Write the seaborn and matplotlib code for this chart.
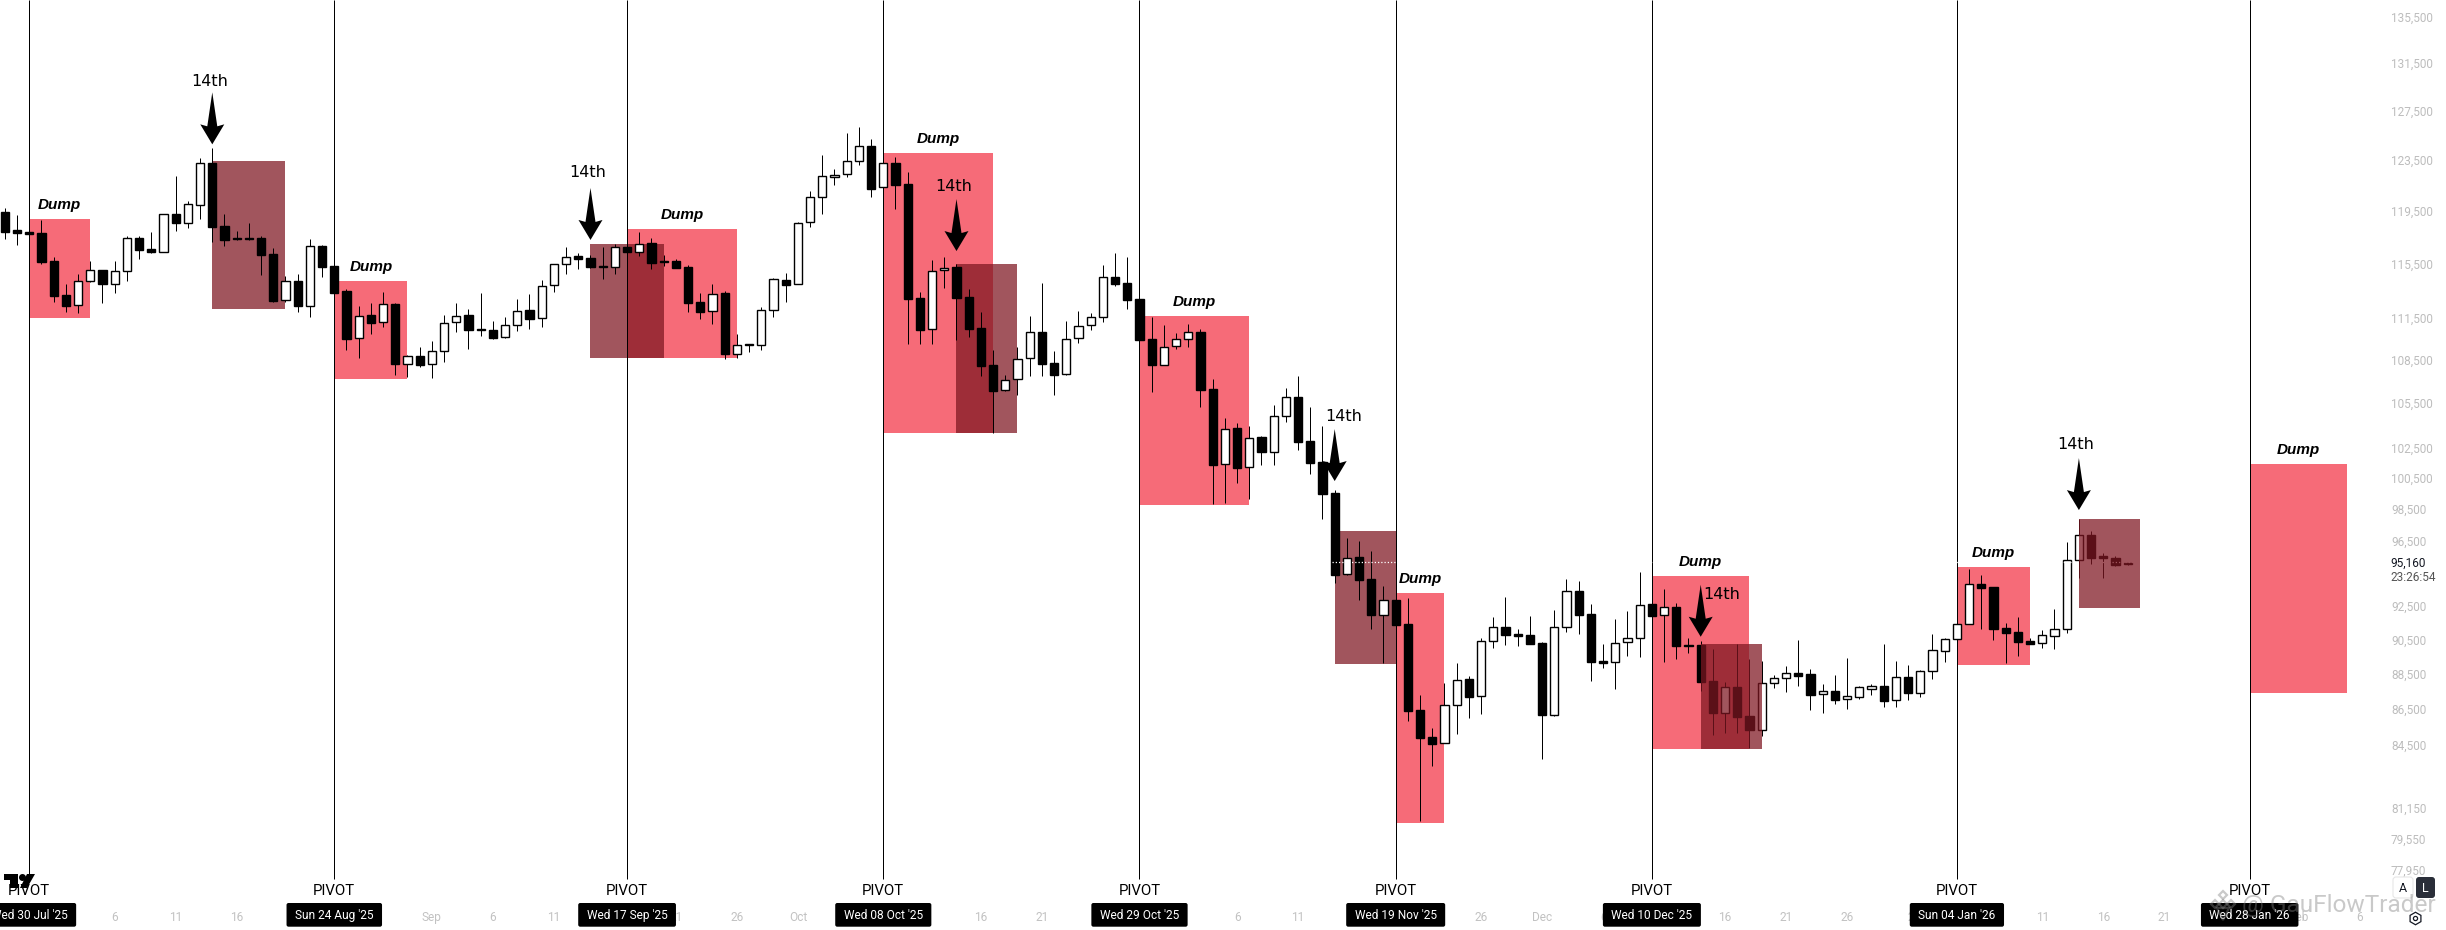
import numpy as np
import matplotlib

matplotlib.use("Agg")
import matplotlib.pyplot as plt
import seaborn as sns
from matplotlib.patches import FancyBboxPatch, Polygon, Rectangle
from matplotlib.ticker import NullLocator
from matplotlib.transforms import Affine2D

WIDTH, HEIGHT = 2446, 930

# daily candles, prices in tens of dollars, day 0 is Wed 30 Jul '25
FIRST_DAY = -2
opens = [
    11938,11802,11787,11779,11567,11312,11239,11415,11497,11398,11490,11738,11655,11637,11922,11858,11997,12323,11830,11738,11738,11738,11620,11276,11415,
    11237,11677,11527,11342,11001,11166,11116,11246,10822,10873,10817,10914,11116,11166,11068,11058,11008,11099,11203,11145,11386,11542,11602,11587,11527,
    11525,11670,11637,11700,11564,11564,11520,11261,11195,11327,10892,10961,10956,11208,11423,11398,11861,12055,12217,12236,12339,12460,12133,12323,12157,
    11290,11066,11497,11520,11298,11073,10810,10636,10712,10859,11044,10824,10747,11001,11094,11152,11445,11401,11283,10994,10815,10944,10994,11044,10643,
    10138,10377,10118,10317,10217,10459,10588,10290,10153,9949,9440,9545,9409,9196,9282,9139,8643,8493,8460,8671,8819,8722,9039,9121,9080,
    9074,9027,8619,9121,9336,9198,8922,8916,9033,9056,9258,9192,9240,9015,9017,8807,8630,8775,8611,8535,8800,8824,8855,8847,8733,
    8750,8705,8720,8765,8779,8699,8830,8739,8864,8984,9050,9139,9381,9363,9117,9093,9041,9027,9072,9109,9526,9684,9553,9538,9510,
]
highs = [
    11969,11917,11787,11879,11594,11396,11470,11567,11500,11567,11756,11756,11787,11922,12222,12026,12366,12446,11925,11794,11856,11756,11665,11455,11470,
    11731,11688,11527,11359,11234,11256,11334,11254,10883,10937,10982,11166,11256,11210,11329,11126,11154,11285,11322,11425,11542,11672,11625,11612,11672,
    11695,11672,11787,11738,11610,11579,11534,11329,11396,11342,11032,10961,11227,11440,11477,11861,12104,12390,12278,12568,12617,12517,12323,12374,12254,
    11337,11574,11597,11544,11356,11191,10918,10743,10939,11162,11403,10911,11126,11198,11183,11537,11625,11597,11283,11154,11097,11037,11104,11066,10715,
    10445,10413,10391,10324,10536,10652,10736,10522,10393,9971,9665,9644,9582,9369,9282,9296,8728,8543,8798,8912,8836,9056,9182,9302,9111,
    9188,9035,9224,9411,9399,9260,9023,9170,9218,9454,9258,9351,9266,9058,9041,8994,8803,9023,8936,8924,8843,8895,9046,8878,8792,
    8843,8941,8779,8792,9023,8924,8901,8872,9082,9058,9139,9473,9436,9363,9145,9182,9056,9105,9230,9640,9785,9709,9574,9553,9512,
]
lows = [
    11733,11688,11774,11547,11266,11193,11183,11408,11259,11332,11420,11582,11627,11637,11794,11820,11886,11713,11683,11726,11726,11462,11266,11266,11193,
    11157,11448,11332,10918,10862,11032,11082,10743,10729,10801,10722,10834,11046,10925,11018,10999,11006,11056,11068,11082,11337,11472,11510,11517,11433,
    11472,11635,11605,11507,11532,11515,11193,11140,11106,10855,10859,10902,10921,11154,11263,11393,11825,11925,12151,12215,12310,12057,12133,11964,10961,
    10961,10961,11366,10989,11011,10736,10348,10634,10604,10736,10736,10604,10745,10970,11061,11118,11383,11212,10992,10625,10815,10925,10939,10522,9880,
    9887,10018,9913,10136,10136,10420,10233,10077,9787,9389,9438,9286,9111,8914,9137,8585,8046,8338,8460,8513,8602,8624,9002,9019,9013,
    9025,8376,8613,9095,9082,8809,8886,8763,8955,8949,9190,8918,8936,8970,8752,8506,8517,8517,8433,8500,8769,8746,8781,8645,8628,
    8679,8651,8707,8729,8662,8662,8701,8720,8822,8920,9048,9139,9111,9046,8914,8953,9025,9002,8996,9090,9418,9503,9420,9491,9499,
]
closes = [
    11789,11781,11774,11559,11307,11237,11415,11497,11398,11490,11738,11652,11637,11922,11858,12000,12323,11827,11728,11731,11731,11615,11271,11415,11237,
    11677,11525,11332,10999,11164,11113,11246,10822,10873,10815,10914,11113,11164,11063,11061,11006,11099,11200,11142,11383,11542,11599,11584,11525,11522,
    11670,11635,11698,11552,11559,11517,11259,11193,11324,10892,10956,10956,11208,11430,11391,11853,12055,12220,12233,12339,12460,12122,12323,12154,11288,
    11063,11495,11517,11295,11070,10808,10634,10710,10857,11044,10822,10745,10999,11092,11157,11445,11398,11280,10992,10815,10942,10994,11044,10641,10136,
    10375,10116,10315,10217,10459,10588,10288,10149,9947,9438,9543,9407,9196,9282,9137,8641,8491,8458,8671,8817,8720,9039,9121,9078,9072,
    9025,8619,9121,9336,9196,8920,8914,9031,9056,9256,9190,9240,9013,9011,8805,8630,8773,8608,8535,8800,8824,8853,8840,8731,8750,
    8703,8722,8773,8779,8697,8830,8739,8864,8986,9050,9139,9379,9359,9111,9090,9037,9025,9074,9109,9526,9682,9543,9543,9499,9505,
]

pivot_days = [0, 25, 49, 70, 91, 112, 133, 158, 182]
pivot_dates = [
    "Wed 30 Jul '25", "Sun 24 Aug '25", "Wed 17 Sep '25", "Wed 08 Oct '25", "Wed 29 Oct '25",
    "Wed 19 Nov '25", "Wed 10 Dec '25", "Sun 04 Jan '26", "Wed 28 Jan '26",
]
dump_start = [0, 25, 49, 70, 91, 112, 133, 158, 182]
dump_end = [5, 31, 58, 79, 100, 116, 141, 164, 190]
dump_top = [118860, 114180, 118090, 124060, 111620, 93260, 94300, 94850, 101400]
dump_bottom = [111490, 107170, 108620, 103480, 98740, 80360, 84310, 89010, 87410]

fourteenth_start = [15, 46, 76, 107, 137, 168]
fourteenth_end = [21, 52, 81, 112, 142, 173]
fourteenth_top = [123420, 116950, 115440, 97090, 90230, 97850]
fourteenth_bottom = [112150, 108640, 103480, 89070, 84310, 92360]
arrow_tip = [124760, 117260, 116420, 100290, 90660, 98420]
# where each "14th" label sits relative to its arrow tip, pixels
label_offset = [(-3, 63), (-3, 67), (-3, 65), (9, 65), (21, 42), (-3, 66)]

time_ticks = [7, 12, 17, 33, 38, 43, 53, 58, 63, 78, 83, 99, 104, 119, 124, 129, 139, 144, 149, 155, 165, 170, 175, 186, 191]
time_labels = ["6", "11", "16", "Sep", "6", "11", "21", "26", "Oct", "16", "21", "6", "11", "26", "Dec", "6", "16", "21", "26", "2026", "11", "16", "21", "Feb", "6"]
price_ticks = [135500, 131500, 127500, 123500, 119500, 115500, 111500, 108500, 105500, 102500, 100500, 98500, 96500, 92500, 90500, 88500, 86500, 84500, 81150, 79550, 77950]
last_price = 95160
countdown = "23:26:54"

RED = "#F66B78"
DARK = (126 / 255, 22 / 255, 33 / 255, 0.73)

sns.set_theme(style="white")
plt.rcParams["font.family"] = ["Roboto", "DejaVu Sans"]

fig = plt.figure(figsize=(WIDTH / 100, HEIGHT / 100), dpi=100)
ax = fig.add_axes([0, 0, 1, 1])
ax.set_yscale("log")

o = np.array(opens) * 10
h = np.array(highs) * 10
l = np.array(lows) * 10
c = np.array(closes) * 10
days = np.arange(FIRST_DAY, FIRST_DAY + len(o))
rising = c >= o

for mask, face in ((rising, "white"), (~rising, "black")):
    sns.barplot(
        x=days[mask],
        y=np.abs(c - o)[mask],
        bottom=np.minimum(o, c)[mask],
        native_scale=True,
        color=face,
        saturation=1,
        width=0.68,
        edgecolor="black",
        linewidth=1.0,
        errorbar=None,
        zorder=3.1,
        ax=ax,
    )
ax.vlines(days, l, h, colors="black", linewidth=0.72, snap=True, zorder=3)

ax.set_xlim(-2.4, 198.09)
ax.set_ylim(74960, 137000)
ax.set_xlabel("")
ax.set_ylabel("")
sns.despine(ax=ax, left=True, bottom=True)

ax.set_xticks(time_ticks)
ax.set_xticklabels(time_labels)
ax.tick_params(axis="x", length=0, pad=-13.5, labelsize=8.6, labelcolor="#C2C2C2")
ax.yaxis.tick_right()
ax.set_yticks(price_ticks)
ax.set_yticklabels([f"{p:,}" for p in price_ticks])
ax.yaxis.set_minor_locator(NullLocator())
ax.tick_params(axis="y", length=0, pad=-39.6, labelsize=8.5, labelcolor="#BDBDBD")

for start, end, top, bottom in zip(dump_start, dump_end, dump_top, dump_bottom):
    ax.add_patch(Rectangle((start, bottom), end - start, top - bottom, facecolor=RED, edgecolor="none", zorder=1))
    ax.annotate(
        "Dump", ((start + end) / 2, top), xytext=(0, 14), textcoords="offset pixels",
        ha="center", va="center", family="Liberation Sans", weight="bold", style="italic",
        fontsize=11, color="black", zorder=6,
    )

# the last two boxes were drawn over the candles, the others under
for i, (start, end, top, bottom) in enumerate(zip(fourteenth_start, fourteenth_end, fourteenth_top, fourteenth_bottom)):
    ax.add_patch(Rectangle((start, bottom), end - start, top - bottom, facecolor=DARK, edgecolor="none", zorder=1.5 if i < 4 else 4))

ax.vlines(pivot_days, 77480, 137000, colors="black", linewidth=0.72, snap=True, zorder=2)
ax.hlines(last_price, 106.8, 173, colors="white", linewidth=0.9, linestyles=(0, (1, 1.6)), zorder=3.5)

arrow_shape = [(0, 0), (-12, 20), (-5, 18), (0, 52), (5, 18), (12, 20)]
for day, tip, (dx, dy) in zip(fourteenth_start, arrow_tip, label_offset):
    tx, ty = ax.transData.transform((day, tip))
    ax.add_patch(Polygon(arrow_shape, closed=True, facecolor="black", edgecolor="none", transform=Affine2D().translate(tx, ty), zorder=5))
    ax.annotate(
        "14th", (day, tip), xytext=(dx, dy), textcoords="offset pixels", ha="center", va="center",
        family="DejaVu Sans", fontsize=11.5, color="black", zorder=6,
    )

# chrome below is placed in image pixels, y going down
px = Affine2D().scale(1, -1).translate(0, HEIGHT)
renderer = fig.canvas.get_renderer()
for day, date in zip(pivot_days, pivot_dates):
    x = ax.transData.transform((day, last_price))[0]
    ax.text(x, 891, "PIVOT", transform=px, ha="center", va="center", fontsize=10.8, color="black", zorder=6)
    label = ax.text(x, 915.5, date, transform=px, ha="center", va="center", fontsize=8.6, color="white", zorder=8)
    w = label.get_window_extent(renderer).width + 17
    ax.add_patch(FancyBboxPatch((x - w / 2, 903), w, 23.7, boxstyle="round,pad=0,rounding_size=2", facecolor="black", edgecolor="none", transform=px, zorder=7, clip_on=False))

ax.text(2390, 563, f"{last_price:,}", transform=px, va="center", fontsize=8.5, color="#131722", zorder=6)
ax.text(2390, 577, countdown, transform=px, va="center", fontsize=8.5, color="#555555", zorder=6)

# TradingView mark
for shape in (
    [(4, 874), (18, 874), (18, 888), (10, 888), (10, 880), (4, 880)],
    [(27, 874), (35, 874), (27, 888), (20, 888)],
):
    ax.add_patch(Polygon(shape, closed=True, facecolor="black", edgecolor="none", transform=px, zorder=9))
ax.plot([21.5], [877], "o", ms=4, color="black", transform=px, zorder=9)

# scale buttons and settings
ax.add_patch(FancyBboxPatch((2393, 877), 20, 21, boxstyle="round,pad=0,rounding_size=3", facecolor="white", edgecolor="#E6E6E6", linewidth=0.8, transform=px, zorder=6))
ax.text(2403, 888, "A", transform=px, ha="center", va="center", fontsize=9, color="#131722", zorder=7)
ax.add_patch(FancyBboxPatch((2416, 877), 19, 21, boxstyle="round,pad=0,rounding_size=3", facecolor="#2A2E39", edgecolor="none", transform=px, zorder=6))
ax.text(2425.5, 888, "L", transform=px, ha="center", va="center", fontsize=9, color="white", zorder=7)
ax.plot([2415], [918], "h", ms=9, mfc="none", mec="#131722", mew=0.9, transform=px, zorder=7)
ax.plot([2415], [918], "o", ms=3, mfc="none", mec="#131722", mew=0.9, transform=px, zorder=7)

# watermark
GREY = (0.5, 0.5, 0.5, 0.42)
ax.text(2242, 905, "@ GauFlowTrader", transform=px, va="center", fontsize=17.6, color=GREY, zorder=10)
ax.plot([2223, 2215, 2231, 2223], [895, 904, 904, 904], "D", ms=4.5, mfc="none", mec=GREY, mew=1.6, transform=px, zorder=10)
ax.plot([2223], [914], "v", ms=8, mfc="none", mec=GREY, mew=1.6, transform=px, zorder=10)

ax.set_xlim(-2.4, 198.09)
ax.set_ylim(74960, 137000)
fig.savefig("out.png", dpi=100)
